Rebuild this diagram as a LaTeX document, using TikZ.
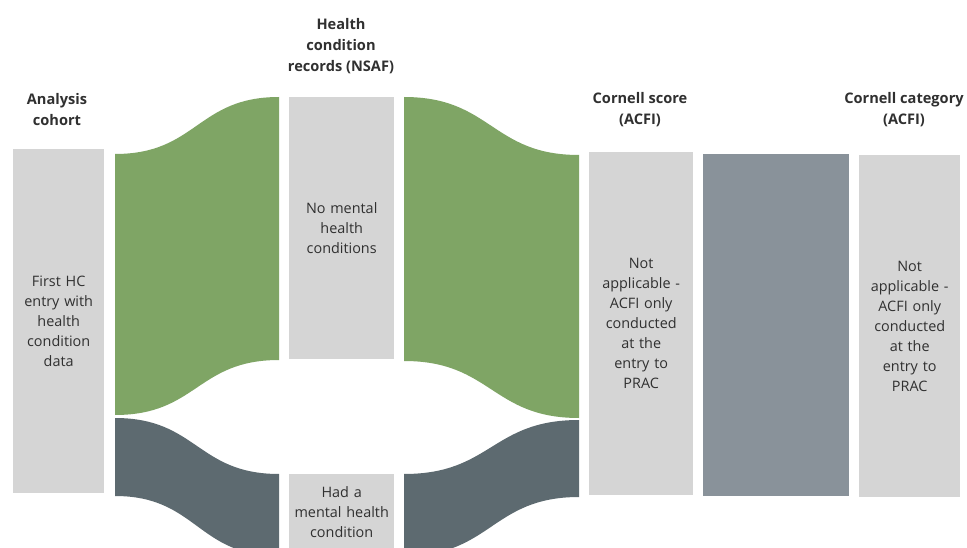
\documentclass[tikz,border=0pt]{standalone}
\usepackage{fontspec}
\setmainfont{Open Sans}
\definecolor{boxgrey}{HTML}{D5D5D5}
\definecolor{flowgreen}{HTML}{7FA565}
\definecolor{flowslate}{HTML}{5D6A70}
\definecolor{midslate}{HTML}{89929A}
\definecolor{txt}{HTML}{303030}
\newcommand{\sankeyband}[7]{%
  % #1 colour, #2 x left, #3 x right, #4 top left, #5 bottom left, #6 top right, #7 bottom right
  \fill[#1] (#2,#4) .. controls ({(#2+#3)/2},#4) and ({(#2+#3)/2},#6) .. (#3,#6)
    -- (#3,#7) .. controls ({(#2+#3)/2},#7) and ({(#2+#3)/2},#5) .. (#2,#5) -- cycle;}
\tikzset{
  stagebox/.style={fill=boxgrey, draw=none, anchor=north west, inner sep=2pt,
    align=center, text=txt, font=\fontsize{14.4}{20}\selectfont},
  header/.style={align=center, text=txt, font=\bfseries\fontsize{14.6}{21}\selectfont, inner sep=0pt},
}
\begin{document}
\begin{tikzpicture}[x=1pt, y=-1pt]
\useasboundingbox (0,0) rectangle (967,548);
\clip (0,0) rectangle (967,548);
\fill[white] (0,0) rectangle (967,548);

% flows
\sankeyband{flowgreen}{115}{279}{154}{415}{97}{360}
\sankeyband{flowslate}{115}{279}{418}{496}{474}{556}
\sankeyband{flowgreen}{404}{579}{97}{361}{155}{418}
\sankeyband{flowslate}{404}{579}{474}{556}{420}{497}

% stage boxes
\node[stagebox, minimum width=91pt, minimum height=344pt, text width=86pt] (cohort) at (13,149)
  {First HC\\entry with\\health\\condition\\data};
\node[stagebox, minimum width=105pt, minimum height=262pt, text width=100pt] (nomh) at (289,97)
  {No mental\\health\\conditions};
\node[stagebox, minimum width=105pt, minimum height=76pt, text width=100pt] (hadmh) at (289,474)
  {Had a\\mental health\\condition};
\node[stagebox, minimum width=104pt, minimum height=343pt, text width=99pt] (score) at (589,152)
  {Not\\applicable -\\ACFI only\\conducted\\at the\\entry to\\PRAC};
\node[fill=midslate, draw=none, anchor=north west, minimum width=146pt, minimum height=342pt, inner sep=0pt] (mid) at (703,154) {};
\node[stagebox, minimum width=101pt, minimum height=342pt, text width=96pt] (category) at (859,155)
  {Not\\applicable -\\ACFI only\\conducted\\at the\\entry to\\PRAC};

% headers
\node[header] (h1) at (57,110) {Analysis\\cohort};
\node[header] (h2) at (341,46) {Health\\condition\\records (NSAF)};
\node[header] (h3) at (640,110) {Cornell score\\(ACFI)};
\node[header] (h4) at (904,110) {Cornell category\\(ACFI)};
\end{tikzpicture}
\end{document}
